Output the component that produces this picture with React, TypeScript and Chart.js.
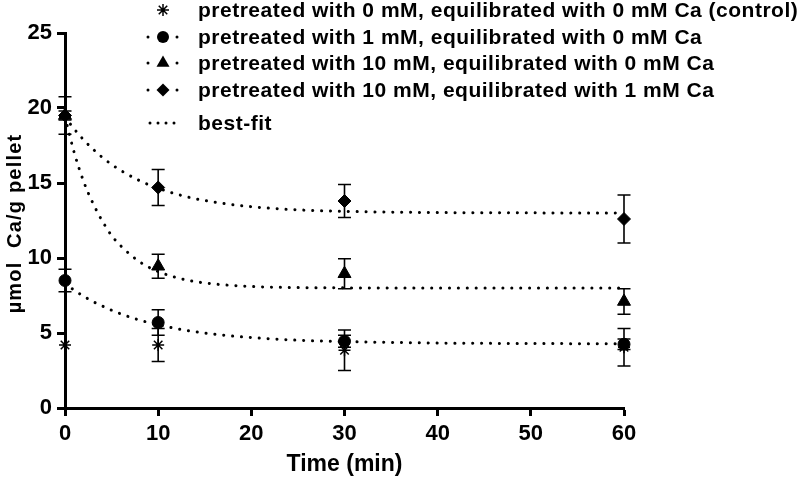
import React, { useEffect, useRef } from 'react';
import { Chart, registerables } from 'chart.js';

Chart.register(...registerables);

const FONT = '"Liberation Sans", Arial, sans-serif';

const times = [0, 10, 30, 60];
const controlMean = [4.2, 4.2, 3.85, 4.05];
const controlSd = [0, 1.1, 1.35, 1.25];
const oneMean = [8.5, 5.7, 4.45, 4.25];
const oneSd = [0.75, 0.85, 0.4, 0.35];
const tenMean = [19.5, 9.45, 8.95, 7.1];
const tenSd = [0.3, 0.8, 1.0, 0.85];
const tenOneMean = [19.5, 14.7, 13.8, 12.6];
const tenOneSd = [1.25, 1.2, 1.1, 1.6];

const fitTimes = [0, 1, 2, 3, 4, 5, 6, 8, 10, 13, 16, 20, 25, 30, 40, 50, 60];
const fitOne = [8.3, 7.85, 7.45, 7.1, 6.8, 6.52, 6.27, 5.86, 5.55, 5.18, 4.92, 4.7, 4.52, 4.43, 4.33, 4.3, 4.28];
const fitTen = [19.4, 17.0, 15.1, 13.65, 12.47, 11.5, 10.8, 9.75, 9.1, 8.54, 8.27, 8.1, 8.03, 8.01, 8.0, 8.0, 8.0];
const fitTenOne = [19.4, 18.59, 17.88, 17.26, 16.71, 16.24, 15.83, 15.16, 14.65, 14.09, 13.73, 13.42, 13.21, 13.11, 13.03, 13.01, 13.0];

const xTicks = [0, 10, 20, 30, 40, 50, 60];
const yTicks = [0, 5, 10, 15, 20, 25];

const legendLabels = [
  'pretreated with 0 mM, equilibrated with 0 mM Ca (control)',
  'pretreated with 1 mM, equilibrated with 0 mM Ca',
  'pretreated with 10 mM, equilibrated with 0 mM Ca',
  'pretreated with 10 mM, equilibrated with 1 mM Ca',
  'best-fit',
];
const xTitle = 'Time (min)';
const yTitle = 'µmol  Ca/g pellet';

const errorSets = [
  { mean: controlMean, sd: controlSd },
  { mean: oneMean, sd: oneSd },
  { mean: tenMean, sd: tenSd },
  { mean: tenOneMean, sd: tenOneSd },
];

function toXY(xs: number[], ys: number[]) {
  return xs.map((x, i) => ({ x, y: ys[i] }));
}

function drawMarker(ctx: CanvasRenderingContext2D, style: string, x: number, y: number) {
  ctx.save();
  ctx.fillStyle = '#000';
  ctx.strokeStyle = '#000';
  ctx.beginPath();
  if (style === 'circle') {
    ctx.arc(x, y, 6, 0, Math.PI * 2);
    ctx.fill();
  } else if (style === 'triangle') {
    const r = 7.5;
    for (let k = 0; k < 3; k++) {
      const a = -Math.PI / 2 + (k * 2 * Math.PI) / 3;
      const px = x + Math.cos(a) * r;
      const py = y + Math.sin(a) * r;
      if (k === 0) ctx.moveTo(px, py);
      else ctx.lineTo(px, py);
    }
    ctx.closePath();
    ctx.fill();
  } else if (style === 'rectRot') {
    const r = 6.5;
    ctx.moveTo(x, y - r);
    ctx.lineTo(x + r, y);
    ctx.lineTo(x, y + r);
    ctx.lineTo(x - r, y);
    ctx.closePath();
    ctx.fill();
  } else if (style === 'star') {
    const r = 6;
    ctx.lineWidth = 1.5;
    for (let k = 0; k < 4; k++) {
      const a = (k * Math.PI) / 4;
      ctx.moveTo(x - Math.cos(a) * r, y - Math.sin(a) * r);
      ctx.lineTo(x + Math.cos(a) * r, y + Math.sin(a) * r);
    }
    ctx.stroke();
  }
  ctx.restore();
}

function dot(ctx: CanvasRenderingContext2D, x: number, y: number) {
  ctx.beginPath();
  ctx.arc(x, y, 1.5, 0, Math.PI * 2);
  ctx.fill();
}

const errorBarPlugin = {
  id: 'errorBars',
  beforeDatasetsDraw(chart: any) {
    const { ctx } = chart;
    const xs = chart.scales.x;
    const ys = chart.scales.y;
    ctx.save();
    ctx.strokeStyle = '#000';
    ctx.lineWidth = 1.6;
    errorSets.forEach(({ mean, sd }) => {
      times.forEach((t, i) => {
        if (!sd[i]) return;
        const px = xs.getPixelForValue(t);
        const top = ys.getPixelForValue(mean[i] + sd[i]);
        const bot = ys.getPixelForValue(mean[i] - sd[i]);
        ctx.beginPath();
        ctx.moveTo(px, top);
        ctx.lineTo(px, bot);
        ctx.moveTo(px - 6.5, top);
        ctx.lineTo(px + 6.5, top);
        ctx.moveTo(px - 6.5, bot);
        ctx.lineTo(px + 6.5, bot);
        ctx.stroke();
      });
    });
    ctx.restore();
  },
};

const annotationPlugin = {
  id: 'annotations',
  afterDraw(chart: any) {
    const { ctx, chartArea } = chart;
    ctx.save();
    ctx.fillStyle = '#000';
    const rows = [10, 37, 63, 90, 123];
    const styles = ['star', 'circle', 'triangle', 'rectRot', null];
    const mx = 163;
    rows.forEach((ry, i) => {
      const st = styles[i];
      if (st && st !== 'star') {
        dot(ctx, 148, ry);
        dot(ctx, 177, ry);
      }
      if (!st) {
        [150, 158, 166, 174].forEach((dx) => dot(ctx, dx, ry));
      }
      if (st) drawMarker(ctx, st, mx, ry);
      ctx.font = `bold 21px ${FONT}`;
      (ctx as any).letterSpacing = '0.5px';
      ctx.textAlign = 'left';
      ctx.textBaseline = 'middle';
      ctx.fillText(legendLabels[i], 198, ry + 1);
    });
    (ctx as any).letterSpacing = '0px';
    ctx.font = `bold 23px ${FONT}`;
    ctx.textAlign = 'center';
    ctx.textBaseline = 'middle';
    ctx.fillText(xTitle, (chartArea.left + chartArea.right) / 2, 465);
    ctx.save();
    ctx.translate(15, (chartArea.top + chartArea.bottom) / 2 + 3);
    ctx.rotate(-Math.PI / 2);
    ctx.font = `bold 20px ${FONT}`;
    (ctx as any).letterSpacing = '1.2px';
    ctx.fillText(yTitle, 0, 0);
    ctx.restore();
    ctx.restore();
  },
};

export default function App() {
  const canvasRef = useRef<HTMLCanvasElement | null>(null);

  useEffect(() => {
    if (!canvasRef.current) return;
    const markerCommon = {
      showLine: false,
      pointBorderColor: '#000',
      pointBackgroundColor: '#000',
      pointBorderWidth: 1,
      clip: false as any,
    };
    const fitCommon = {
      showLine: true,
      pointRadius: 0,
      borderColor: '#000',
      borderWidth: 3,
      borderDash: [0.1, 8.8],
      borderCapStyle: 'round' as const,
      cubicInterpolationMode: 'monotone' as const,
      fill: false,
      clip: false as any,
    };
    const tickFont = { family: FONT, size: 22, weight: 'bold' };
    const chart = new Chart(canvasRef.current, {
      type: 'scatter',
      data: {
        datasets: [
          { ...markerCommon, label: legendLabels[0], data: toXY(times, controlMean), pointStyle: 'star', pointRadius: 6, pointBorderWidth: 1.5 },
          { ...markerCommon, label: legendLabels[1], data: toXY(times, oneMean), pointStyle: 'circle', pointRadius: 6 },
          { ...markerCommon, label: legendLabels[2], data: toXY(times, tenMean), pointStyle: 'triangle', pointRadius: 7.5 },
          { ...markerCommon, label: legendLabels[3], data: toXY(times, tenOneMean), pointStyle: 'rectRot', pointRadius: 6.5 },
          { ...fitCommon, label: 'fit1', data: toXY(fitTimes, fitOne) },
          { ...fitCommon, label: 'fit2', data: toXY(fitTimes, fitTen) },
          { ...fitCommon, label: 'fit3', data: toXY(fitTimes, fitTenOne) },
        ] as any,
      },
      options: {
        animation: false,
        responsive: true,
        maintainAspectRatio: false,
        layout: { padding: { top: 33, right: 174, left: 0, bottom: 0 } },
        plugins: { legend: { display: false }, tooltip: { enabled: false } },
        scales: {
          x: {
            type: 'linear',
            min: 0,
            max: 60,
            afterBuildTicks: (s: any) => { s.ticks = xTicks.map((v) => ({ value: v })); },
            afterFit: (s: any) => { s.height = 71; },
            ticks: { color: '#000', font: tickFont, padding: 5, maxRotation: 0 },
            grid: { drawOnChartArea: false, drawTicks: true, tickLength: 8, tickWidth: 3, tickColor: '#000' },
            border: { display: true, color: '#000', width: 3 },
          },
          y: {
            type: 'linear',
            min: 0,
            max: 25,
            afterBuildTicks: (s: any) => { s.ticks = yTicks.map((v) => ({ value: v })); },
            afterFit: (s: any) => { s.width = 65; },
            ticks: { color: '#000', font: tickFont, padding: 5 },
            grid: { drawOnChartArea: false, drawTicks: true, tickLength: 8, tickWidth: 3, tickColor: '#000' },
            border: { display: true, color: '#000', width: 3 },
          },
        },
      } as any,
      plugins: [errorBarPlugin, annotationPlugin],
    });
    return () => chart.destroy();
  }, []);

  return (
    <div style={{ position: 'fixed', left: 0, top: 0, width: 798, height: 479, background: '#fff' }}>
      <canvas ref={canvasRef} />
    </div>
  );
}
